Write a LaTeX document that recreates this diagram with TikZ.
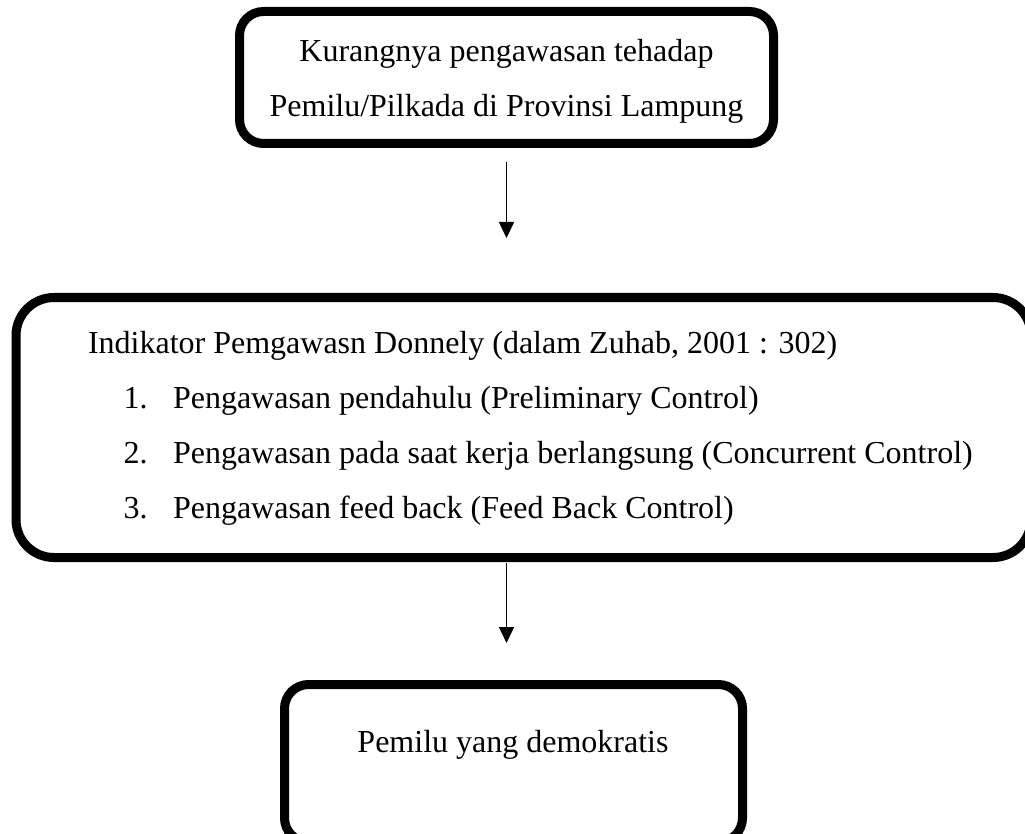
\documentclass[tikz,border=0pt]{standalone}
\usepackage{fontspec}
\setmainfont{Liberation Serif}
\usetikzlibrary{arrows.meta}
\begin{document}
\begin{tikzpicture}[x=1pt,y=-1pt,
  box/.style={draw=black, line width=9pt, inner sep=0pt, outer sep=0pt, fill=none},
  txt/.style={inner sep=0pt, outer sep=0pt, font=\fontsize{32}{38}\selectfont, text=black},
  arr/.style={draw=black, line width=1.5pt, -{Triangle[width=15pt,length=16pt]}}]
\useasboundingbox (0,0) rectangle (1025,834);
\clip (0,0) rectangle (1025,834);
% boxes
\node[box, rounded corners=24pt, minimum width=534pt, minimum height=132pt] (top) at (506.5,77.5) {};
\node[box, rounded corners=38pt, minimum width=1015pt, minimum height=260pt] (mid) at (523.5,427.5) {};
\node[box, rounded corners=24pt, minimum width=458pt, minimum height=157.5pt] (bot) at (513.5,763.25) {};
% top text
\node[txt, anchor=base] (t1) at (506.5,62) {Kurangnya pengawasan tehadap};
\node[txt, anchor=base] (t2) at (506.5,117) {Pemilu/Pilkada di Provinsi Lampung};
% middle text
\node[txt, anchor=base west] (m0) at (88,353) {Indikator Pemgawasn Donnely (dalam Zuhab, 2001 : 302)};
\node[txt, anchor=base west] (n1) at (123.5,408) {1.};
\node[txt, anchor=base west] (m1) at (173,408) {Pengawasan pendahulu (Preliminary Control)};
\node[txt, anchor=base west] (n2) at (123.5,463) {2.};
\node[txt, anchor=base west] (m2) at (173,463) {Pengawasan pada saat kerja berlangsung (Concurrent Control)};
\node[txt, anchor=base west] (n3) at (123.5,518) {3.};
\node[txt, anchor=base west] (m3) at (173,518) {Pengawasan feed back (Feed Back Control)};
% bottom text
\node[txt, anchor=base] (b1) at (513,752.5) {Pemilu yang demokratis};
% arrows
\draw[arr, shorten <=18.5pt, shorten >=59.5pt] (top.south) -- (top.south |- mid.north);
\draw[arr, shorten <=5.5pt, shorten >=41.5pt] (top.south |- mid.south) -- (top.south |- bot.north);
\end{tikzpicture}
\end{document}
